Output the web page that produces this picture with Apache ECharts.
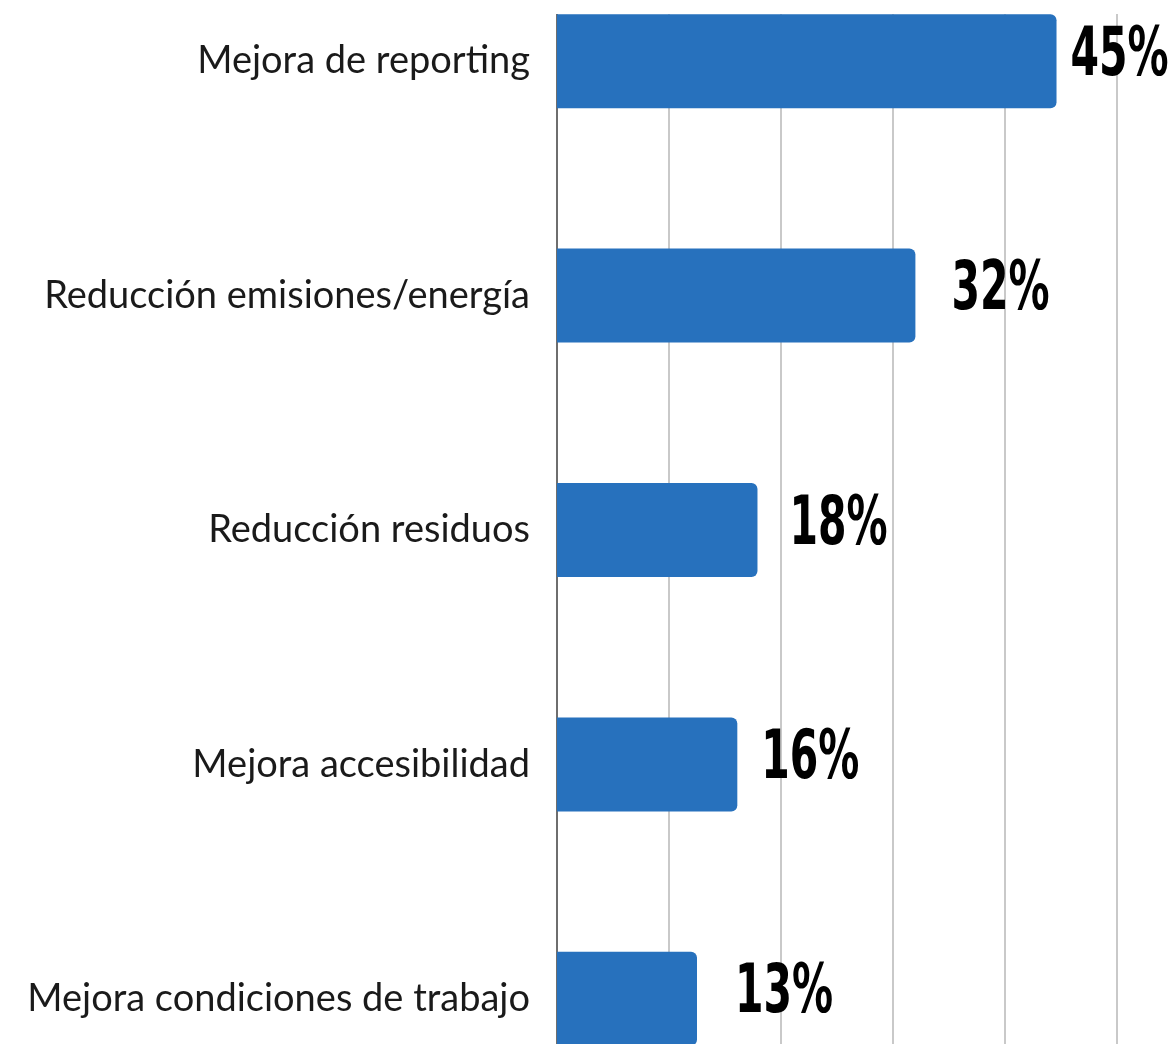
<!DOCTYPE html>
<html>
<head>
<meta charset="utf-8">
<script src="https://cdn.jsdelivr.net/npm/echarts@6/dist/echarts.min.js"></script>
<style>
  html, body { margin: 0; padding: 0; background: #fff; }
  #chart { width: 1173px; height: 1044px; }
</style>
</head>
<body>
<div id="chart"></div>
<script>
// categories top to bottom
var categories = [
  "Mejora de reporting",
  "Reducción emisiones/energía",
  "Reducción residuos",
  "Mejora accesibilidad",
  "Mejora condiciones de trabajo"
];
// bar lengths as drawn (percent)
var values = [44.6, 32.0, 17.9, 16.1, 12.5];
// printed labels
var valueLabels = ["45%", "32%", "18%", "16%", "13%"];
var xTicks = [0, 10, 20, 30, 40, 50];

// gap between bar end and its label, px
var labelGap = [14, 36, 32, 24, 38];

var myChart = echarts.init(document.getElementById("chart"));
var option = {
  animation: false,
  grid: {
    left: 557,
    right: 56,
    top: -56,
    bottom: -72,
    outerBoundsMode: "none"
  },
  // plot area starts at the top edge of the first bar
  graphic: [
    {
      type: "rect",
      z: 1,
      shape: { x: 540, y: 0, width: 633, height: 14 },
      style: { fill: "#fff" }
    }
  ],
  xAxis: {
    type: "value",
    min: xTicks[0],
    max: xTicks[xTicks.length - 1],
    interval: 10,
    axisLabel: { show: false },
    axisTick: { show: false },
    axisLine: { show: false },
    splitLine: {
      show: true,
      lineStyle: { color: "#c9c9c9", width: 2 }
    }
  },
  yAxis: {
    type: "category",
    inverse: true,
    data: categories,
    axisTick: { show: false },
    axisLine: {
      show: true,
      lineStyle: { color: "#6e6e6e", width: 2 }
    },
    axisLabel: {
      margin: 27,
      color: "#1a1a1a",
      fontFamily: "Lato",
      fontSize: 38
    }
  },
  series: [
    {
      type: "bar",
      z: 3,
      barWidth: 94,
      itemStyle: {
        color: "#2771bd",
        borderRadius: [0, 6, 6, 0]
      },
      data: values
    },
    {
      // condensed value labels
      type: "custom",
      z: 3,
      clip: false,
      data: values.map(function (v, i) { return [v, i]; }),
      encode: { x: 0, y: 1 },
      renderItem: function (params, api) {
        var i = params.dataIndex;
        var pt = api.coord([api.value(0), api.value(1)]);
        return {
          type: "text",
          x: pt[0] + labelGap[i],
          y: pt[1] - 4,
          scaleX: 0.67,
          style: {
            text: valueLabels[i],
            x: 0,
            y: 0,
            align: "left",
            verticalAlign: "middle",
            fill: "#000",
            font: "bold 68px 'DejaVu Sans Condensed', sans-serif"
          }
        };
      }
    }
  ]
};
myChart.setOption(option);
</script>
</body>
</html>
